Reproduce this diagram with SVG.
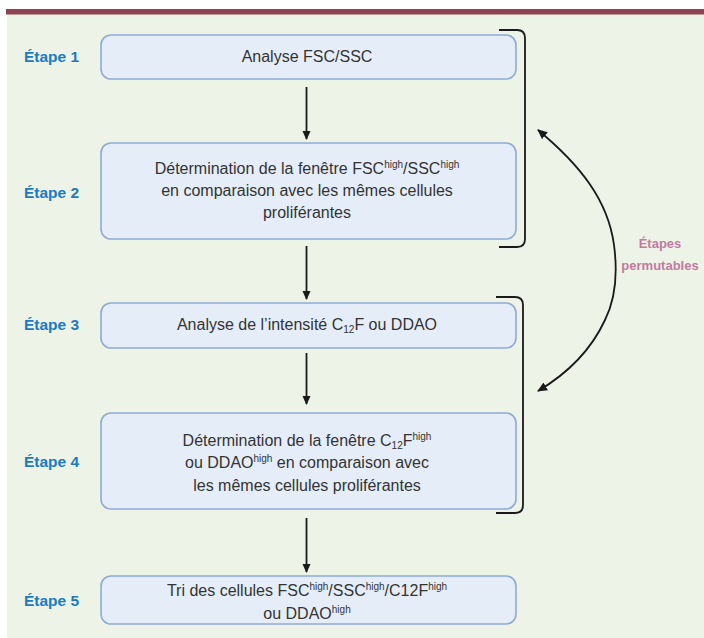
<svg xmlns="http://www.w3.org/2000/svg" width="704" height="638" viewBox="0 0 704 638">
<defs>
<style>
.box{fill:#e5eef8;stroke:#8eaad6;stroke-width:1.6}
.t{font-family:"Liberation Sans",Arial,sans-serif;font-size:16px;fill:#333;text-anchor:middle}
.sup{font-size:10px}
.step{font-family:"Liberation Sans",Arial,sans-serif;font-size:15.5px;font-weight:bold;fill:#1a7bc2}
.perm{font-family:"Liberation Sans",Arial,sans-serif;font-size:13px;font-weight:bold;fill:#c27a9e;text-anchor:middle}
.ln{fill:none;stroke:#1a1a1a;stroke-width:1.8}
</style>
<marker id="ah" viewBox="0 0 10 10" refX="9" refY="5" markerWidth="9" markerHeight="9" markerUnits="userSpaceOnUse" orient="auto">
<path d="M0,0.5 L10,5 L0,9.5 z" fill="#1a1a1a"/>
</marker>
<marker id="ah2" viewBox="0 0 10 10" refX="9" refY="5" markerWidth="10" markerHeight="10" markerUnits="userSpaceOnUse" orient="auto">
<path d="M0,0.5 L10,5 L0,9.5 z" fill="#1a1a1a"/>
</marker>
</defs>
<rect x="7" y="14" width="697" height="624" fill="#eef3e7"/>
<rect x="6" y="9" width="698" height="5.5" fill="#8e4450"/>

<g id="connectors">
<line class="ln" x1="306.5" y1="87" x2="306.5" y2="139" marker-end="url(#ah)"/>
<line class="ln" x1="306.5" y1="246" x2="306.5" y2="299" marker-end="url(#ah)"/>
<line class="ln" x1="306.5" y1="353" x2="306.5" y2="404" marker-end="url(#ah)"/>
<line class="ln" x1="306.5" y1="518" x2="306.5" y2="572" marker-end="url(#ah)"/>
<path class="ln" d="M499,30 H517 Q525,30 525,38 V239 Q525,247 517,247 H499"/>
<path class="ln" d="M496,297 H515 Q523,297 523,305 V505 Q523,513 515,513 H496"/>
<path class="ln" d="M614,245 C608,200 580,165 538,130" marker-end="url(#ah2)"/>
<path class="ln" d="M614,245 C618,275 615,300 605,320 C592,348 570,372 538,391" marker-end="url(#ah2)"/>
</g>

<g id="step1">
<text class="step" x="24" y="62">Étape 1</text>
<rect class="box" x="101" y="35" width="415" height="44" rx="10"/>
<text class="t" x="307" y="62">Analyse FSC/SSC</text>
</g>
<g id="step2">
<text class="step" x="24" y="198">Étape 2</text>
<rect class="box" x="101" y="143" width="415" height="96" rx="10"/>
<text class="t" x="307" y="174">Détermination de la fenêtre FSC<tspan class="sup" dy="-6">high</tspan><tspan dy="6">/SSC</tspan><tspan class="sup" dy="-6">high</tspan></text>
<text class="t" x="307" y="196">en comparaison avec les mêmes cellules</text>
<text class="t" x="307" y="218">proliférantes</text>
</g>
<g id="step3">
<text class="step" x="24" y="330">Étape 3</text>
<rect class="box" x="101" y="303" width="415" height="45" rx="10"/>
<text class="t" x="307" y="330">Analyse de l’intensité C<tspan class="sup" dy="3">12</tspan><tspan dy="-3">F ou DDAO</tspan></text>
</g>
<g id="step4">
<text class="step" x="24" y="467">Étape 4</text>
<rect class="box" x="101" y="413" width="415" height="96" rx="10"/>
<text class="t" x="307" y="446">Détermination de la fenêtre C<tspan class="sup" dy="3">12</tspan><tspan dy="-3">F</tspan><tspan class="sup" dy="-6">high</tspan></text>
<text class="t" x="307" y="468">ou DDAO<tspan class="sup" dy="-6">high</tspan><tspan dy="6"> en comparaison avec</tspan></text>
<text class="t" x="307" y="491">les mêmes cellules proliférantes</text>
</g>
<g id="step5">
<text class="step" x="24" y="606">Étape 5</text>
<rect class="box" x="101" y="576" width="415" height="48" rx="10"/>
<text class="t" x="307" y="596">Tri des cellules FSC<tspan class="sup" dy="-6">high</tspan><tspan dy="6">/SSC</tspan><tspan class="sup" dy="-6">high</tspan><tspan dy="6">/C12F</tspan><tspan class="sup" dy="-6">high</tspan></text>
<text class="t" x="307" y="619">ou DDAO<tspan class="sup" dy="-6">high</tspan></text>
</g>
<g id="permutables">
<text class="perm" x="660" y="248">Étapes</text>
<text class="perm" x="660" y="270">permutables</text>
</g>
</svg>
